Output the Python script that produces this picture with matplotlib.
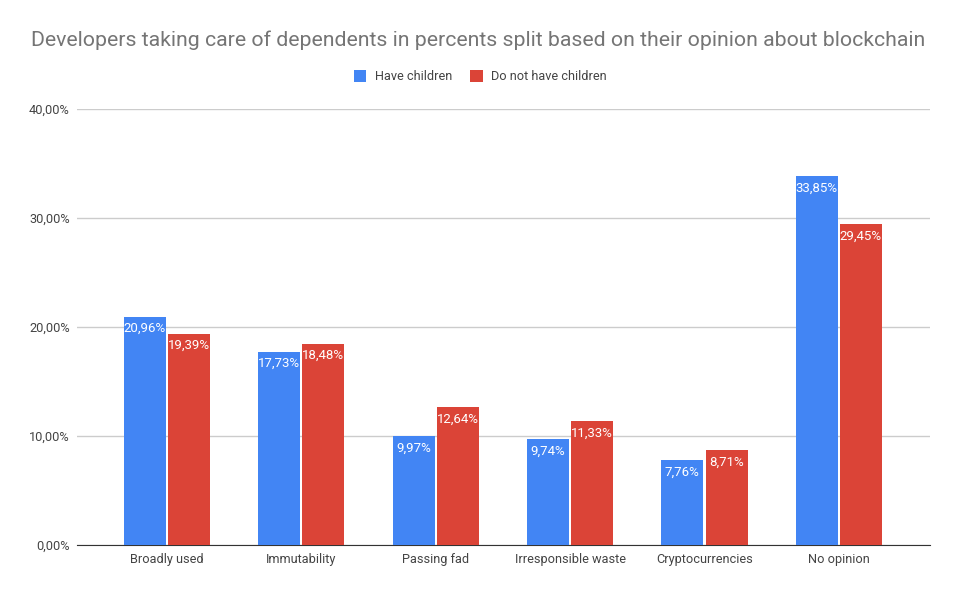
import numpy as np
import matplotlib.pyplot as plt
from matplotlib.ticker import FuncFormatter

plt.rcParams['font.family'] = ['Roboto', 'DejaVu Sans']

categories = ['Broadly used', 'Immutability', 'Passing fad', 'Irresponsible waste',
              'Cryptocurrencies', 'No opinion']
have_children = [20.96, 17.73, 9.97, 9.74, 7.76, 33.85]
no_children = [19.39, 18.48, 12.64, 11.33, 8.71, 29.45]

blue = '#4285F4'
red = '#DB4437'

fig = plt.figure(figsize=(9.6, 5.94), dpi=100)
ax = fig.add_axes([0.080, 0.0825, 0.889, 0.734])

x = np.arange(len(categories))
w = 0.313
gap = 0.008
b1 = ax.bar(x - w/2 - gap, have_children, w, color=blue, label='Have children', zorder=3)
b2 = ax.bar(x + w/2 + gap, no_children, w, color=red, label='Do not have children', zorder=3)

def fmt(v):
    return ('%.2f' % v).replace('.', ',') + '%'

for bars, vals in ((b1, have_children), (b2, no_children)):
    for b, v in zip(bars, vals):
        ax.text(b.get_x() + b.get_width()/2, v - 0.5, fmt(v), ha='center', va='top',
                color='white', fontsize=9.5, zorder=4)

ax.set_ylim(0, 40)
ax.set_xlim(-0.67, 5.68)
ax.set_yticks([0, 10, 20, 30, 40])
ax.yaxis.set_major_formatter(FuncFormatter(lambda v, p: fmt(v)))
ax.set_xticks(x)
ax.set_xticklabels(categories)
ax.grid(axis='y', color='#cccccc', linewidth=1, zorder=0)
for s in ['top', 'right', 'left']:
    ax.spines[s].set_visible(False)
ax.spines['bottom'].set_color('#333333')
ax.tick_params(axis='both', length=0, labelsize=9.2, colors='#444444', pad=6)
ax.tick_params(axis='y', pad=5)

fig.text(0.498, 0.932, 'Developers taking care of dependents in percents split based on their opinion about blockchain',
         ha='center', va='center', fontsize=15.35, color='#757575')
fig.legend(handles=[b1, b2], loc='center', bbox_to_anchor=(0.5, 0.871), ncol=2, frameon=False,
           fontsize=9.2, handlelength=1, handleheight=1, columnspacing=1.4, handletextpad=0.65,
           labelcolor='#444444')

fig.savefig('out.png', dpi=100)
